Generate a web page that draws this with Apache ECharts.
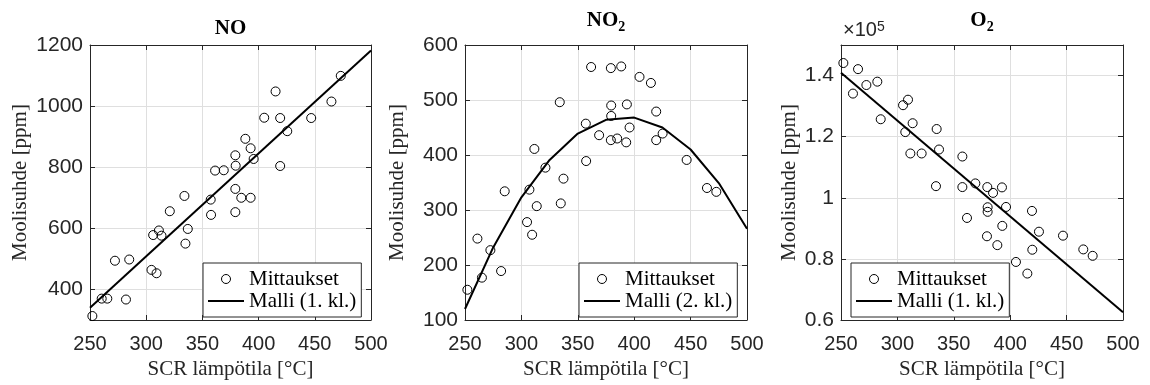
<!DOCTYPE html>
<html>
<head>
<meta charset="utf-8">
<script src="https://cdn.jsdelivr.net/npm/echarts@6/dist/echarts.min.js"></script>
<style>
html,body{margin:0;padding:0;background:#fff;}
#chart{width:1150px;height:385px;}
</style>
</head>
<body>
<div id="chart"></div>
<script>
// ---- data ----
const noT = [252.1,260.4,265.4,272.2,282.0,284.9,304.7,306.2,309.2,311.3,313.6,321.0,334.0,334.9,337.0,357.4,357.7,361.3,369.0,379.3,379.6,379.3,379.3,384.6,388.2,392.9,392.9,395.6,405.0,415.1,419.2,419.2,425.5,446.8,464.8,473.1];
const noV = [313,370,370,494,367,498,464,578,453,593,576,656,706,550,598,694,644,789,790,839,805,729,653,700,893,700,862,827,962,1048,961,804,918,961,1015,1099];
const noModelT = [250,500];
const noModelV = [340,1182];

const no2T = [252.1,261.0,265.0,272.5,282.0,285.2,305.0,307.1,309.5,311.5,313.6,321.3,334.0,334.9,337.3,357.1,357.4,361.8,368.9,379.3,379.6,379.6,379.3,384.9,388.5,392.9,393.5,395.9,404.7,414.8,419.5,419.5,425.2,446.5,464.5,472.8];
const no2V = [155,248,177,227,189,334,278,337,255,411,307,377,496,312,357,457,389,560,436,558,490,471,427,430,561,423,492,450,542,531,479,427,439,391,340,333];
const no2ModelT = [250,275,300,325,350,375,400,425,450,475,500];
const no2ModelV = [120,232,323,391,439,464,468,450,410,349,266];

const o2T = [252.1,260.6,265.1,272.5,282.2,285.2,305.0,307.0,309.4,311.5,313.5,321.5,334.2,334.8,336.9,357.6,357.6,361.7,369.1,379.4,379.7,380.0,380.0,384.8,388.6,392.7,393.0,396.3,405.1,415.2,419.3,419.6,425.5,446.8,464.8,473.1];
const o2V = [1.441,1.341,1.421,1.369,1.380,1.257,1.303,1.215,1.321,1.145,1.244,1.145,1.038,1.225,1.158,1.135,1.035,0.934,1.047,0.874,1.035,0.969,0.954,1.016,0.845,1.034,0.908,0.970,0.790,0.752,0.957,0.830,0.889,0.876,0.831,0.810];
const o2ModelT = [250,500];
const o2ModelV = [1.409,0.625];

const xTicks = {min:250, max:500, interval:50};
const yRanges = [{min:300,max:1200}, {min:100,max:600,interval:100}, {min:0.6,max:1.5}];
const titles = ['NO', '{a|NO}{s|2}', '{a|O}{s|2}'];
const xName = 'SCR lämpötila [°C]';
const yName = 'Moolisuhde [ppm]';
const measName = 'Mittaukset';
const modelNames = ['Malli (1. kl.)', 'Malli (2. kl.)', 'Malli (1. kl.)'];

// ---- layout ----
const grids = [
  {left:90, top:45, width:281, height:280},
  {left:465, top:45, width:282, height:280},
  {left:841, top:45, width:282, height:280}
];
const yNameGaps = [59.5, 57.5, 41.5];
const legendLeft = [203, 579, 851];
const AX = '#262626';
const SERIF = 'Liberation Serif';
const SANS = 'Liberation Sans';
const zip = (a,b) => a.map((v,i)=>[v,b[i]]);
const plain = v => String(+(+v).toFixed(4));

const xAxes = [], yAxes = [];
grids.forEach((g,i)=>{
  const base = {type:'value', gridIndex:i, min:xTicks.min, max:xTicks.max, interval:xTicks.interval};
  xAxes.push(Object.assign({}, base, {
    position:'bottom',
    axisLine:{show:true,onZero:false,lineStyle:{color:AX,width:1}},
    axisTick:{show:true,inside:true,length:5,lineStyle:{color:AX}},
    axisLabel:{show:true,fontFamily:SANS,fontSize:20,color:AX,margin:14,formatter:plain},
    splitLine:{show:true,lineStyle:{color:'#dfdfdf',width:1}},
    name:xName, nameLocation:'middle', nameGap:39,
    nameTextStyle:{fontFamily:SERIF,fontSize:21,color:AX}
  }));
  xAxes.push(Object.assign({}, base, {
    position:'top',
    axisLine:{show:true,onZero:false,lineStyle:{color:AX,width:1}},
    axisTick:{show:true,inside:true,length:5,lineStyle:{color:AX}},
    axisLabel:{show:false}, splitLine:{show:false}
  }));
  const yr = yRanges[i];
  const ybase = {type:'value', gridIndex:i, min:yr.min, max:yr.max};
  if (yr.interval) ybase.interval = yr.interval; else ybase.splitNumber = 5;
  yAxes.push(Object.assign({}, ybase, {
    position:'left',
    axisLine:{show:true,onZero:false,lineStyle:{color:AX,width:1}},
    axisTick:{show:true,inside:true,length:5,lineStyle:{color:AX}},
    axisLabel:{show:true,fontFamily:SANS,fontSize:21,color:AX,margin:7,formatter:plain,
      showMinLabel: i===0 ? false : true, showMaxLabel: i===2 ? false : true},
    splitLine:{show:true,lineStyle:{color:'#dfdfdf',width:1}},
    name:yName, nameLocation:'middle', nameGap:yNameGaps[i],
    nameTextStyle:{fontFamily:SERIF,fontSize:21,color:AX}
  }));
  yAxes.push(Object.assign({}, ybase, {
    position:'right',
    axisLine:{show:true,onZero:false,lineStyle:{color:AX,width:1}},
    axisTick:{show:true,inside:true,length:5,lineStyle:{color:AX}},
    axisLabel:{show:false}, splitLine:{show:false}
  }));
});

const measT = [noT, no2T, o2T], measV = [noV, no2V, o2V];
const modT = [noModelT, no2ModelT, o2ModelT], modV = [noModelV, no2ModelV, o2ModelV];
const series = [];
for (let i=0;i<3;i++){
  series.push({
    name:measName, type:'scatter', xAxisIndex:2*i, yAxisIndex:2*i,
    data:zip(measT[i], measV[i]), symbol:'circle', symbolSize:9,
    itemStyle:{color:'rgba(0,0,0,0)', borderColor:'#000', borderWidth:1, opacity:1},
    z:2
  });
  series.push({
    name:modelNames[i], type:'line', xAxisIndex:2*i, yAxisIndex:2*i,
    data:zip(modT[i], modV[i]), symbol:'none', showSymbol:false,
    lineStyle:{color:'#000', width:2}, itemStyle:{color:'#000'}, z:3
  });
}

const legends = grids.map((g,i)=>({
  data:[{name:measName, itemStyle:{color:'rgba(0,0,0,0)', borderColor:'#000', borderWidth:1}},
        {name:modelNames[i], itemStyle:{opacity:0}}],
  orient:'vertical', left:legendLeft[i], top:263,
  backgroundColor:'#fff', borderColor:AX, borderWidth:1, borderRadius:0,
  padding:[5,5,5,4], itemGap:0, itemWidth:36, itemHeight:9,
  selectedMode:false,
  textStyle:{fontFamily:SERIF,fontSize:21,color:'#000',lineHeight:22}
}));

const titleRich = {
  a:{fontFamily:SERIF,fontSize:21,fontWeight:'bold',color:'#000',lineHeight:24,verticalAlign:'top'},
  s:{fontFamily:SERIF,fontSize:14,fontWeight:'bold',color:'#000',lineHeight:14,padding:[15,0,0,0],verticalAlign:'bottom'}
};
const titleTops = [17, 10, 10];
const titleComps = grids.map((g,i)=>({
  text:titles[i], left:g.left+g.width/2, top:titleTops[i], textAlign:'center', padding:0,
  textStyle:{fontFamily:SERIF,fontSize:21,fontWeight:'bold',color:'#000',lineHeight:24,rich:titleRich}
}));
titleComps.push({
  text:'×10{sup|5}', left:843, top:20, padding:0,
  textStyle:{fontFamily:SANS,fontSize:20,fontWeight:'normal',color:AX,lineHeight:20,verticalAlign:'bottom',
    rich:{sup:{fontFamily:SANS,fontSize:14,fontWeight:'normal',color:AX,lineHeight:14,padding:[0,0,8,0],verticalAlign:'top'}}}
});

const chart = echarts.init(document.getElementById('chart'), null, {renderer:'canvas'});
chart.setOption({
  animation:false,
  backgroundColor:'#fff',
  title:titleComps,
  legend:legends,
  grid:grids,
  xAxis:xAxes,
  yAxis:yAxes,
  series:series
});
</script>
</body>
</html>
